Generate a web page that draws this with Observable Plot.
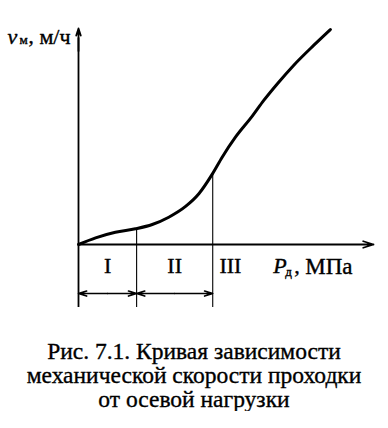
<!DOCTYPE html>
<html>
<head>
<meta charset="utf-8">
<script src="https://cdn.jsdelivr.net/npm/d3@7"></script>
<script src="https://cdn.jsdelivr.net/npm/@observablehq/plot@0.6"></script>
<style>
  html, body { margin: 0; padding: 0; background: #fff; }
  #chart svg { display: block; }
  #caption {
    width: 388px; margin-top: 21px; text-align: center;
    font-family: "Liberation Serif", "Times New Roman", serif;
    font-size: 23.5px; line-height: 24px; color: #000;
    -webkit-text-stroke: 0.35px #000;
  }
</style>
</head>
<body>
<div id="chart"></div>
<div id="caption">Рис. 7.1. Кривая зависимости<br>механической скорости проходки<br>от осевой нагрузки</div>
<script>
// Curve of penetration rate vs axial load (arbitrary units)
const loadP = [0, 0.58, 1.25, 1.93, 2.5, 3.06, 3.63, 4.08, 4.53, 4.87, 5.32, 5.89, 6.28, 6.75, 7.29, 7.97, 8.54];
const speedV = [0, 0.31, 0.57, 0.73, 0.93, 1.27, 1.77, 2.36, 3.26, 4.06, 4.99, 5.97, 6.7, 7.49, 8.33, 9.26, 10.0];
// Region boundaries on the load axis
const boundaries = [0, 1.97, 4.55];
const regionLabels = ["I", "II", "III"];
const xLabel = ["P", "д", ",", "МПа"];
const yLabel = ["v", "м", ",", "м/ч"];

const curve = loadP.map((p, i) => ({p, v: speedV[i]}));
// value of the curve at a boundary (linear between the read points)
const vAt = p => {
  const i = d3.bisectRight(loadP, p);
  if (i <= 0) return speedV[0];
  if (i >= loadP.length) return speedV[speedV.length - 1];
  const t = (p - loadP[i - 1]) / (loadP[i] - loadP[i - 1]);
  return speedV[i - 1] + t * (speedV[i] - speedV[i - 1]);
};

const xMax = 10, yMax = 10, yLow = -2.93, arrowRowY = -2.28, labelRowY = -1.02;

// double-headed arrows: from midpoint to each end
const spans = [[boundaries[0], boundaries[1]], [boundaries[1], boundaries[2]]];
const halfArrows = spans.flatMap(([a, b]) => [
  {x1: (a + b) / 2, x2: a}, {x1: (a + b) / 2, x2: b}
]);

const regionPos = [
  (boundaries[0] + boundaries[1]) / 2,
  (boundaries[1] + boundaries[2]) / 2,
  boundaries[2] + 0.6
];

const serif = "Liberation Serif";
const ink = {fill: "#000", stroke: "#000", strokeWidth: 0.4};
const xl = 6.6, yl = -2.41, ylY = 9.67;
const chart = Plot.plot({
  width: 388,
  height: 318,
  marginLeft: 78,
  marginRight: 15,
  marginTop: 29,
  marginBottom: 74,
  x: {domain: [0, xMax], axis: null},
  y: {domain: [0, yMax], axis: null},
  style: {fontFamily: serif, color: "#000", background: "#fff"},
  marks: [
    // boundary verticals
    Plot.ruleX(boundaries.slice(1), {x: d => d, y1: yLow, y2: d => vAt(d), stroke: "#000", strokeWidth: 1.1}),
    // y axis with arrow
    Plot.ruleX([0], {y1: yLow, y2: 9.6, stroke: "#000", strokeWidth: 1.8}),
    Plot.arrow([0], {x1: 0, x2: 0, y1: 9, y2: 10.05, stroke: "#000", strokeWidth: 1.8, headLength: 9, headAngle: 35}),
    // x axis with arrow
    Plot.arrow([0], {x1: 0, x2: xMax, y1: 0, y2: 0, stroke: "#000", strokeWidth: 1.8, headLength: 9, headAngle: 35}),
    // region span arrows
    Plot.arrow(halfArrows, {x1: "x1", x2: "x2", y1: arrowRowY, y2: arrowRowY, stroke: "#000", strokeWidth: 1.6, headLength: 8, headAngle: 35}),
    // curve
    Plot.line(curve, {x: "p", y: "v", curve: "monotone-x", stroke: "#000", strokeWidth: 3}),
    // region labels
    Plot.text(regionLabels, {x: (d, i) => regionPos[i], y: labelRowY, text: d => d, fontSize: 22, ...ink}),
    // x label
    Plot.text([xLabel[0]], {x: xl, y: labelRowY, text: d => d, textAnchor: "start", fontSize: 22, fontStyle: "italic", ...ink}),
    Plot.text([xLabel[1]], {x: xl, y: labelRowY, text: d => d, textAnchor: "start", dx: 12, dy: 5, fontSize: 13, ...ink}),
    Plot.text([xLabel[2]], {x: xl, y: labelRowY, text: d => d, textAnchor: "start", dx: 21, fontSize: 22, ...ink}),
    Plot.text([xLabel[3]], {x: xl, y: labelRowY, text: d => d, textAnchor: "start", dx: 32, fontSize: 23, ...ink}),
    // y label
    Plot.text([yLabel[0]], {x: yl, y: ylY, text: d => d, textAnchor: "start", fontSize: 22, fontStyle: "italic", ...ink}),
    Plot.text([yLabel[1]], {x: yl, y: ylY, text: d => d, textAnchor: "start", dx: 12, dy: 3, fontSize: 13, ...ink}),
    Plot.text([yLabel[2]], {x: yl, y: ylY, text: d => d, textAnchor: "start", dx: 21, fontSize: 21, ...ink}),
    Plot.text([yLabel[3]], {x: yl, y: ylY, text: d => d, textAnchor: "start", dx: 32, fontSize: 22, ...ink})
  ]
});
document.getElementById("chart").appendChild(chart);
</script>
</body>
</html>
